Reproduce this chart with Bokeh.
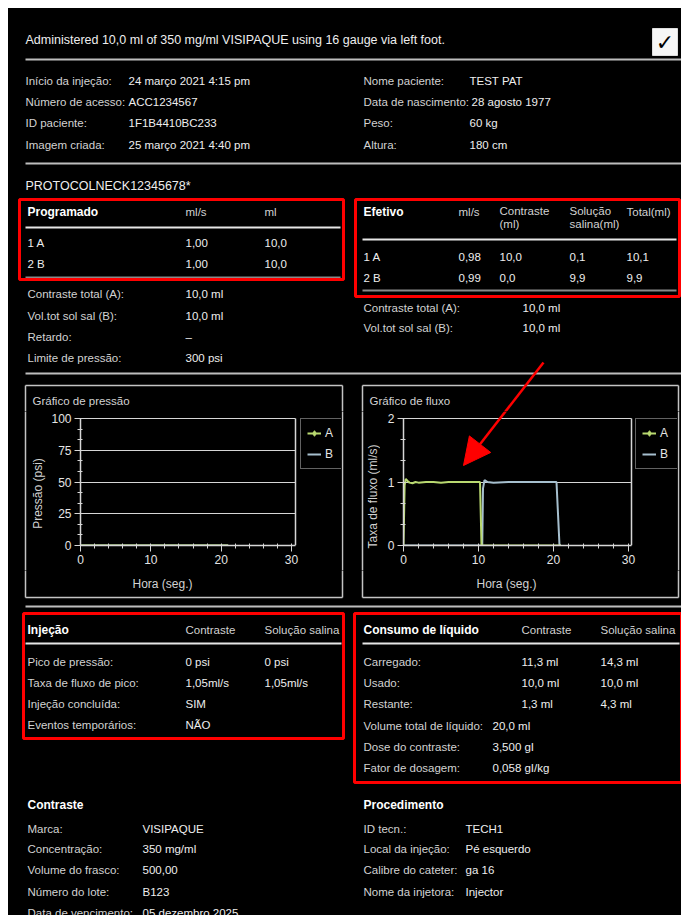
import math
from bokeh.plotting import figure
from bokeh.models import (Range1d, ColumnDataSource, Arrow, NormalHead, Legend, LegendItem,
                          SingleIntervalTicker, Spacer)
from bokeh.layouts import column, row
from bokeh.embed import file_html
from bokeh.resources import INLINE
from bokeh.core.properties import value

# ---------------- data ----------------
summary_text = "Administered 10,0 ml of 350 mg/ml VISIPAQUE using 16 gauge via left foot."
info_left_labels = ["Início da injeção:", "Número de acesso:", "ID paciente:", "Imagem criada:"]
info_left_values = ["24 março 2021 4:15 pm", "ACC1234567", "1F1B4410BC233", "25 março 2021 4:40 pm"]
info_right_labels = ["Nome paciente:", "Data de nascimento:", "Peso:", "Altura:"]
info_right_values = ["TEST PAT", "28 agosto 1977", "60 kg", "180 cm"]
protocol_name = "PROTOCOLNECK12345678*"

prog_header = ["Programado", "ml/s", "ml"]
phases = ["1 A", "2 B"]
prog_rate = ["1,00", "1,00"]
prog_vol = ["10,0", "10,0"]
prog_tot_labels = ["Contraste total (A):", "Vol.tot sol sal (B):", "Retardo:", "Limite de pressão:"]
prog_tot_values = ["10,0 ml", "10,0 ml", "–", "300 psi"]

eff_title = "Efetivo"
eff_header_l1 = ["ml/s", "Contraste", "Solução", "Total(ml)"]
eff_header_l2 = ["(ml)", "salina(ml)"]
eff_rate = ["0,98", "0,99"]
eff_contrast = ["10,0", "0,0"]
eff_saline = ["0,1", "9,9"]
eff_total = ["10,1", "9,9"]
eff_tot_labels = ["Contraste total (A):", "Vol.tot sol sal (B):"]
eff_tot_values = ["10,0 ml", "10,0 ml"]

inj_header = ["Injeção", "Contraste", "Solução salina"]
inj_labels = ["Pico de pressão:", "Taxa de fluxo de pico:", "Injeção concluída:", "Eventos temporários:"]
inj_contrast = ["0 psi", "1,05ml/s", "SIM", "NÃO"]
inj_saline = ["0 psi", "1,05ml/s", "", ""]

cons_header = ["Consumo de líquido", "Contraste", "Solução salina"]
cons_labels = ["Carregado:", "Usado:", "Restante:"]
cons_contrast = ["11,3 ml", "10,0 ml", "1,3 ml"]
cons_saline = ["14,3 ml", "10,0 ml", "4,3 ml"]
cons_tot_labels = ["Volume total de líquido:", "Dose do contraste:", "Fator de dosagem:"]
cons_tot_values = ["20,0 ml", "3,500 gI", "0,058 gI/kg"]

contrast_title = "Contraste"
contrast_labels = ["Marca:", "Concentração:", "Volume do frasco:", "Número do lote:", "Data de vencimento:"]
contrast_values = ["VISIPAQUE", "350 mg/ml", "500,00", "B123", "05 dezembro 2025"]
proc_title = "Procedimento"
proc_labels = ["ID tecn.:", "Local da injeção:", "Calibre do cateter:", "Nome da injetora:"]
proc_values = ["TECH1", "Pé esquerdo", "ga 16", "Injector"]

pressure_title = "Gráfico de pressão"
pressure_ylabel = "Pressão (psi)"
flow_title = "Gráfico de fluxo"
flow_ylabel = "Taxa de fluxo (ml/s)"
time_label = "Hora (seg.)"
series_names = ["A", "B"]

pressure_t = [0.0, 5.0, 10.0, 10.5, 15.0, 20.0, 21.0]
pressure_a = [0, 0, 0, 0, 0, 0, 0]
pressure_b = [0, 0, 0, 0, 0, 0, 0]
pressure_top = 100

flow_a_t = [0.0, 0.15, 0.3, 0.5, 0.8, 1.2, 1.6, 2.0, 3.0, 4.0, 5.0, 6.0, 7.0, 8.0, 9.0,
            10.0, 10.2, 10.4, 11.0, 15.0, 21.0]
flow_a = [0.0, 0.95, 1.05, 1.02, 0.99, 0.98, 1.0, 0.99, 1.0, 1.0, 0.99, 1.0, 1.0, 1.0, 1.0,
          1.0, 1.0, 0.0, 0.0, 0.0, 0.0]
flow_b_t = [0.0, 5.0, 10.5, 10.6, 10.8, 11.2, 12.0, 14.0, 16.0, 18.0, 20.0, 20.4, 20.8, 21.0]
flow_b = [0.0, 0.0, 0.0, 0.9, 1.03, 1.0, 0.99, 1.0, 1.0, 1.0, 1.0, 1.0, 0.0, 0.0]
flow_top = 2

# ---------------- style / layout (image pixel coordinates) ----------------
FONT = "Liberation Sans"
BG = "#000000"
LBL = "#d2d2d2"
VAL = "#eeeeee"
HEAD = "#ffffff"
RED = "#ff0000"
SEP = "#bdbdbd"
GRID = "#d6d6d6"
PANEL = "#c4c4c4"
GREEN = "#b9d970"
BLUE = "#a6bfce"
FS = "11.5px"

X0, X1 = 8, 681
Y0 = 8
Y_ROW0, Y_ROW1 = 411, 570
Y1 = 915
FRAME_T, FRAME_B = 418, 545
PANEL_X = [(25, 342), (362, 678)]
PANEL_T, PANEL_B = 385, 597
ARROW_TAIL = (543, 362)
ARROW_TIP = (463, 465)


def text_panel(x0, x1, y0, y1):
    p = figure(width=x1 - x0, height=y1 - y0, x_range=Range1d(x0, x1), y_range=Range1d(y1, y0),
               output_backend="svg", toolbar_location=None, x_axis_location=None,
               y_axis_location=None, min_border=0, background_fill_color=BG,
               border_fill_color=BG, outline_line_color=None, title=None, frame_align=False)
    p.grid.visible = False
    # vertical sides of the two chart panels (each figure shows its own slice)
    xs = [x for pair in PANEL_X for x in pair]
    p.segment(x0=xs, x1=xs, y0=[PANEL_T] * len(xs), y1=[PANEL_B] * len(xs),
              line_color=PANEL, line_width=1.5)
    return p


def texts(p, xs, ys, labels, color=LBL, size=FS, style="normal", font=FONT, align="left", angle=0.0):
    src = ColumnDataSource(dict(x=list(xs), y=list(ys), t=list(labels)))
    p.text(x="x", y="y", text="t", source=src, text_color=color, text_font=value(font),
           text_font_size=size, text_font_style=style, text_baseline="middle", text_align=align,
           angle=angle)


def hlines(p, x0, x1, ys, color, width=2.0):
    p.segment(x0=[x0] * len(ys), x1=[x1] * len(ys), y0=ys, y1=ys, line_color=color, line_width=width)


def panel_hline(p, y):
    for (l, r) in PANEL_X:
        hlines(p, l, r, [y], PANEL, 1.5)


def red_box(p, l, r, t, b):
    p.quad(left=[l], right=[r], top=[t], bottom=[b], fill_alpha=0, line_color=RED, line_width=3)


# ---------------- top panel ----------------
top = text_panel(X0, X1, Y0, Y_ROW0)
texts(top, [25], [39], [summary_text], color=VAL, size="12.5px")
top.quad(left=[652], right=[677], top=[28], bottom=[55], fill_color="#f6f6f6", line_color="#dddddd")
texts(top, [664.5], [42], ["✓"], color="#000000", size="22px", font="DejaVu Sans", align="center")
hlines(top, 25, 681, [59, 163, 373], SEP)

rows_y = [80, 101, 122, 144]
texts(top, [25] * 4, rows_y, info_left_labels)
texts(top, [128] * 4, rows_y, info_left_values, color=VAL)
texts(top, [363] * 4, rows_y, info_right_labels)
texts(top, [469, 471, 469, 469], rows_y, info_right_values, color=VAL)
texts(top, [25], [185], [protocol_name], color=VAL, size="12.5px")

# Programado table
texts(top, [27], [211], prog_header[:1], color=HEAD, size="12px", style="bold")
texts(top, [185, 264], [211, 211], prog_header[1:], color=LBL)
hlines(top, 25, 340, [227], "#e6e6e6")
texts(top, [27, 27], [242, 263], phases, color=VAL)
texts(top, [185, 185], [242, 263], prog_rate, color=VAL)
texts(top, [264, 264], [242, 263], prog_vol, color=VAL)
hlines(top, 25, 340, [277], "#8a8a8a")
red_box(top, 19, 343, 199, 279)
texts(top, [27] * 4, [293, 315, 336, 357], prog_tot_labels)
texts(top, [185] * 4, [293, 315, 336, 357], prog_tot_values, color=VAL)

# Efetivo table
texts(top, [363], [211], [eff_title], color=HEAD, size="12px", style="bold")
texts(top, [458, 499, 569, 626], [211, 210, 210, 211], eff_header_l1, color=LBL)
texts(top, [499, 569], [223, 223], eff_header_l2, color=LBL)
hlines(top, 362, 676, [239], "#e6e6e6")
texts(top, [363, 363], [256, 277], phases, color=VAL)
texts(top, [458, 458], [256, 277], eff_rate, color=VAL)
texts(top, [499, 499], [256, 277], eff_contrast, color=VAL)
texts(top, [569, 569], [256, 277], eff_saline, color=VAL)
texts(top, [626, 626], [256, 277], eff_total, color=VAL)
hlines(top, 362, 676, [290], "#8a8a8a")
red_box(top, 355, 679, 199, 296)
texts(top, [363, 363], [307, 327], eff_tot_labels)
texts(top, [522, 522], [307, 327], eff_tot_values, color=VAL)

# chart panel tops, titles and arrow tail
panel_hline(top, PANEL_T)
texts(top, [32, 369], [400, 400], [pressure_title, flow_title])
top.line([ARROW_TAIL[0], ARROW_TIP[0]], [ARROW_TAIL[1], ARROW_TIP[1]], line_color=RED, line_width=2.5)


# ---------------- charts ----------------
def chart(fig_l, fig_r, frame_l, plot_r, x30, ytop, yint):
    """Frame spans from frame_l to the right edge of the figure and from the top of the row
    down to FRAME_B; the visible plot area ends at plot_r (x) and ytop (y)."""
    px_per_s = (x30 - frame_l) / 30.0
    xmax = (fig_r - frame_l) / px_per_s
    xedge = (plot_r - frame_l) / px_per_s
    ymax = ytop * (FRAME_B - Y_ROW0) / (FRAME_B - FRAME_T)
    p = figure(width=fig_r - fig_l, height=Y_ROW1 - Y_ROW0, x_range=Range1d(0, xmax),
               y_range=Range1d(0, ymax), output_backend="svg", toolbar_location=None, title=None,
               min_border_left=frame_l - fig_l, min_border_right=0,
               min_border_top=0, min_border_bottom=Y_ROW1 - FRAME_B,
               background_fill_color=BG, border_fill_color=BG, outline_line_color=None,
               frame_align=False)
    p.xaxis.ticker = SingleIntervalTicker(interval=10, num_minor_ticks=5)
    p.yaxis.ticker = SingleIntervalTicker(interval=yint, num_minor_ticks=3)
    p.xaxis.bounds = (0, xedge)
    p.yaxis.bounds = (0, ytop)
    p.xgrid.visible = False
    p.ygrid.grid_line_color = GRID
    p.ygrid.grid_line_width = 1
    for ax in p.axis:
        ax.axis_line_color = GRID
        ax.axis_line_width = 1.5
        ax.major_tick_line_color = GRID
        ax.minor_tick_line_color = GRID
        ax.major_tick_in = 0
        ax.major_tick_out = 6
        ax.minor_tick_in = 2
        ax.minor_tick_out = 3
        ax.major_label_text_color = "#e4e4e4"
        ax.major_label_text_font = FONT
        ax.major_label_text_font_size = "12px"
        ax.major_label_standoff = 3
    # hide grid lines right of the plot area (legend zone), then draw the right edge
    p.quad(left=[xedge], right=[xmax], bottom=[0], top=[ymax], fill_color=BG, line_color=None)
    p.segment(x0=[xedge], y0=[0], x1=[xedge], y1=[ytop], line_color=GRID, line_width=1.5)
    return p, xedge


def legend(p, frame_l, renderers_a, renderers_b, lx, ly_bottom):
    lg = Legend(items=[LegendItem(label=series_names[0], renderers=renderers_a),
                       LegendItem(label=series_names[1], renderers=renderers_b)],
                location=(lx - frame_l, FRAME_B - ly_bottom), orientation="vertical",
                border_line_color=PANEL, border_line_width=1, background_fill_color=BG,
                background_fill_alpha=1, label_text_color="#e4e4e4", label_text_font=FONT,
                label_text_font_size="12px", glyph_width=14, glyph_height=16, label_height=16,
                spacing=5, padding=6, margin=0, label_standoff=4, inactive_fill_alpha=0)
    p.add_layout(lg)


# spacer panels with the chart frames' side edges and the rotated axis titles
vs1 = text_panel(X0, 46, Y_ROW0, Y_ROW1)
texts(vs1, [37], [493], [pressure_ylabel], size="12px", align="center", angle=math.pi / 2)
vs2 = text_panel(341, 380, Y_ROW0, Y_ROW1)
texts(vs2, [372], [496], [flow_ylabel], size="12px", align="center", angle=math.pi / 2)
vs3 = text_panel(677, X1, Y_ROW0, Y_ROW1)

# pressure
PL = 80
pres, pedge = chart(46, 341, PL, 295, 291, pressure_top, 25)
psrc = ColumnDataSource(dict(t=pressure_t, a=pressure_a, b=pressure_b))
rb = pres.line("t", "b", source=psrc, line_color=BLUE, line_width=2)
ra = pres.line("t", "a", source=psrc, line_color=GREEN, line_width=2)
# marker shown only in the legend key of series A
rm = pres.scatter("t", "a", source=psrc, marker="diamond", size=6, fill_color=GREEN,
                  line_color=GREEN, visible=False)
legend(pres, PL, [ra, rm], [rb], 300, 469)

# flow
FL = 403
flow, fedge = chart(380, 677, FL, 631, 628, flow_top, 1)
asrc = ColumnDataSource(dict(t=flow_a_t, v=flow_a))
bsrc = ColumnDataSource(dict(t=flow_b_t, v=flow_b))
fb = flow.line("t", "v", source=bsrc, line_color=BLUE, line_width=2)
fa = flow.line("t", "v", source=asrc, line_color=GREEN, line_width=2)
fm = flow.scatter("t", "v", source=asrc, marker="diamond", size=6, fill_color=GREEN,
                  line_color=GREEN, visible=False)
legend(flow, FL, [fa, fm], [fb], 635, 469)
flow.add_layout(Arrow(end=NormalHead(size=27, fill_color=RED, line_color=RED),
                      x_start=ARROW_TAIL[0] - FL, y_start=FRAME_B - ARROW_TAIL[1],
                      x_end=ARROW_TIP[0] - FL, y_end=FRAME_B - ARROW_TIP[1],
                      start_units="screen", end_units="screen",
                      line_color=RED, line_width=2.5))

# ---------------- bottom panel ----------------
bot = text_panel(X0, X1, Y_ROW1, Y1)
panel_hline(bot, PANEL_B)
texts(bot, [162, 506], [583, 583], [time_label, time_label], size="12px", align="center")
hlines(bot, 25, 681, [606], SEP)

texts(bot, [27], [629], inj_header[:1], color=HEAD, size="12px", style="bold")
texts(bot, [185, 264], [629, 629], inj_header[1:], color=LBL)
hlines(bot, 25, 341, [643], "#e6e6e6")
inj_y = [661, 682, 703, 724]
texts(bot, [27] * 4, inj_y, inj_labels)
texts(bot, [185] * 4, inj_y, inj_contrast, color=VAL)
texts(bot, [264] * 4, inj_y, inj_saline, color=VAL)
red_box(bot, 23, 343, 613, 738)

texts(bot, [363], [629], cons_header[:1], color=HEAD, size="12px", style="bold")
texts(bot, [521, 600], [629, 629], cons_header[1:], color=LBL)
hlines(bot, 362, 679, [643], "#e6e6e6")
cons_y = [661, 682, 703]
texts(bot, [363] * 3, cons_y, cons_labels)
texts(bot, [521] * 3, cons_y, cons_contrast, color=VAL)
texts(bot, [600] * 3, cons_y, cons_saline, color=VAL)
tot_y = [725, 746, 767]
texts(bot, [363] * 3, tot_y, cons_tot_labels)
texts(bot, [492] * 3, tot_y, cons_tot_values, color=VAL)
red_box(bot, 354, 681, 613, 782)

texts(bot, [27], [804], [contrast_title], color=HEAD, size="12px", style="bold")
c_y = [828, 848, 869, 891, 912]
texts(bot, [27] * 5, c_y, contrast_labels)
texts(bot, [142] * 5, c_y, contrast_values, color=VAL)
texts(bot, [363], [804], [proc_title], color=HEAD, size="12px", style="bold")
p_y = [828, 848, 869, 891]
texts(bot, [363] * 4, p_y, proc_labels)
texts(bot, [465] * 4, p_y, proc_values, color=VAL)

main = column(top, row(vs1, pres, vs2, flow, vs3, spacing=0), bot, spacing=0,
              styles={"background-color": BG})
page = column(Spacer(width=X1, height=Y0),
              row(Spacer(width=X0, height=Y1 - Y0), main, spacing=0), spacing=0)
open("out.html", "w").write(file_html(page, INLINE))
